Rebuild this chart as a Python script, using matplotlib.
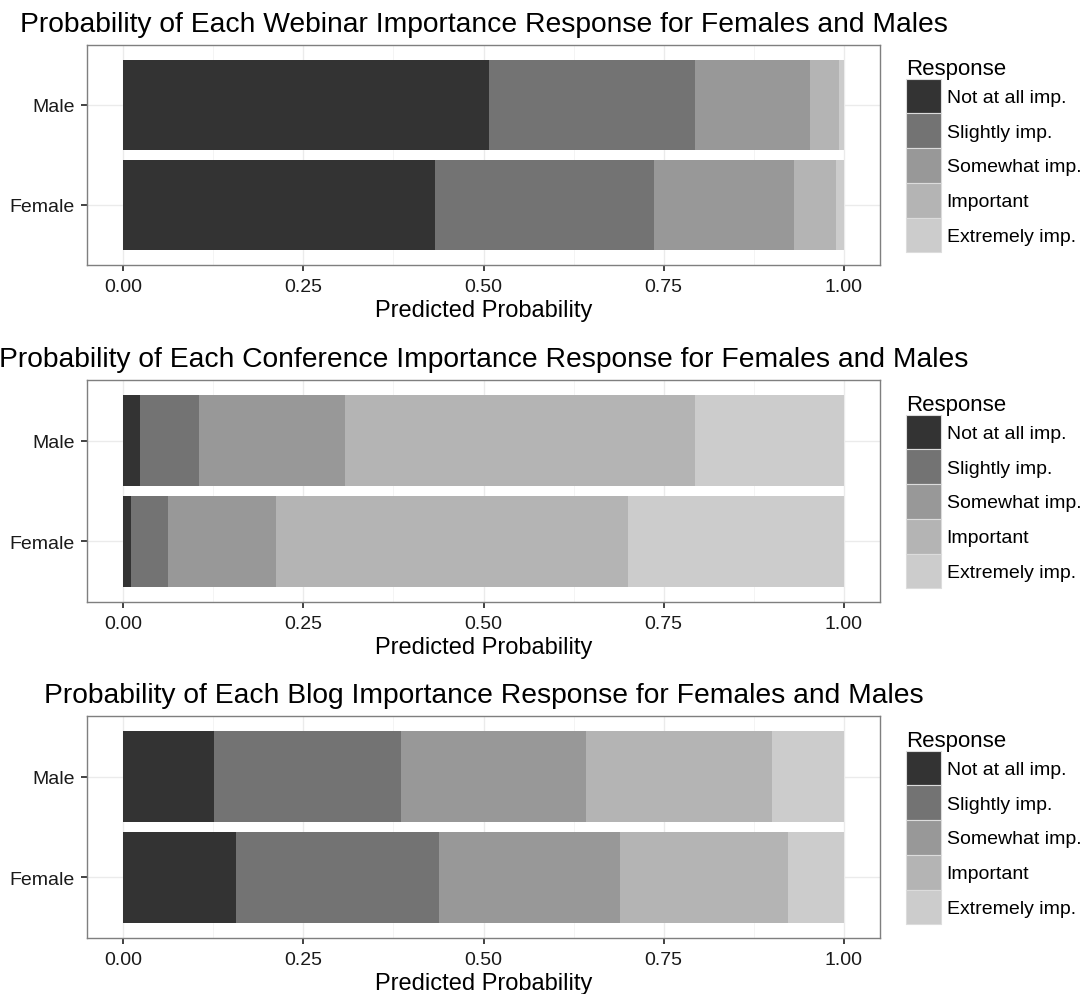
import numpy as np
import matplotlib.pyplot as plt
from matplotlib.patches import Patch

plt.rcParams['font.family'] = ['Liberation Sans', 'DejaVu Sans']

responses = ['Not at all imp.', 'Slightly imp.', 'Somewhat imp.', 'Important', 'Extremely imp.']
genders = ['Female', 'Male']
fills = ['#333333', '#737373', '#989898', '#b4b4b4', '#cccccc']

titles = ['Probability of Each Webinar Importance Response for Females and Males',
          'Probability of Each Conference Importance Response for Females and Males',
          'Probability of Each Blog Importance Response for Females and Males']

# predicted probabilities per response level, rows = [Female, Male]
webinar = [[0.433, 0.304, 0.194, 0.058, 0.011],
           [0.507, 0.287, 0.159, 0.040, 0.007]]
conference = [[0.011, 0.051, 0.150, 0.488, 0.300],
              [0.024, 0.082, 0.202, 0.486, 0.206]]
blog = [[0.157, 0.281, 0.252, 0.232, 0.078],
        [0.126, 0.260, 0.256, 0.258, 0.100]]

W, H = 1085, 995
fig = plt.figure(figsize=(W / 100, H / 100), dpi=100)

# panel top/bottom edges in pixels
panels = [(46, 266), (381, 603), (717, 939)]
left, right = 87, 880

for probs, title, (top, bot) in zip([webinar, conference, blog], titles, panels):
    ax = fig.add_axes([left / W, 1 - bot / H, (right - left) / W, (bot - top) / H])
    probs = np.array(probs)
    ypos = np.arange(1, len(genders) + 1)
    start = np.zeros(len(genders))
    for j, resp in enumerate(responses):
        ax.barh(ypos, probs[:, j], left=start, height=0.9, color=fills[j],
                label=resp, zorder=2, linewidth=0)
        start += probs[:, j]

    ax.set_xlim(-0.05, 1.05)
    ax.set_ylim(0.4, 2.6)
    ax.set_xticks([0, 0.25, 0.5, 0.75, 1.0])
    ax.set_xticklabels(['0.00', '0.25', '0.50', '0.75', '1.00'])
    ax.set_xticks([0.125, 0.375, 0.625, 0.875], minor=True)
    ax.set_yticks(ypos)
    ax.set_yticklabels(genders)
    ax.grid(True, which='major', color='#ebebeb', linewidth=1.0, zorder=0)
    ax.grid(True, which='minor', axis='x', color='#f3f3f3', linewidth=0.6, zorder=0)
    ax.tick_params(which='major', length=4.3, width=1.3, color='#333333',
                   labelsize=14, labelcolor='#1a1a1a')
    ax.tick_params(axis='x', pad=5)
    ax.tick_params(axis='y', pad=4.5)
    ax.tick_params(which='minor', length=0)
    for s in ax.spines.values():
        s.set_color('#7f7f7f')
        s.set_linewidth(1.0)
    ax.set_xlabel('Predicted Probability', fontsize=17, labelpad=3)
    ax.set_title(title, fontsize=20.3, pad=10)

    handles = [Patch(facecolor=c, edgecolor='#dcdcdc', linewidth=0.8) for c in fills]
    leg = ax.legend(handles, responses, title='Response', loc='center left',
                    bbox_to_anchor=(1.033, 0.5), frameon=False, fontsize=14,
                    title_fontsize=16, handlelength=1.78, handleheight=2.37,
                    labelspacing=0.0, handletextpad=0.3, borderpad=0.0,
                    borderaxespad=0.0)
    leg._legend_box.align = 'left'

fig.savefig('out.png', dpi=100)
